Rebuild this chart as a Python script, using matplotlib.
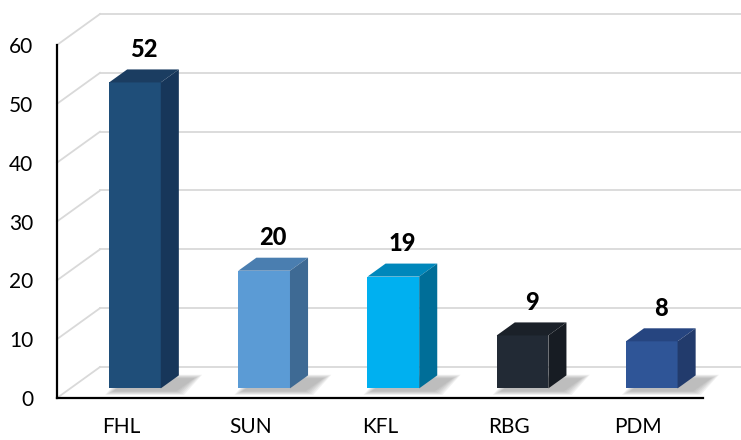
import matplotlib
matplotlib.use("Agg")
import matplotlib.pyplot as plt
from matplotlib.patches import Polygon, Rectangle

categories = ["FHL", "SUN", "KFL", "RBG", "PDM"]
values = [52, 20, 19, 9, 8]
front_colors = ["#1f4e79", "#5b9bd5", "#00b0f0", "#222a35", "#2f5597"]
top_colors = ["#1b3d61", "#4a7eb0", "#0087bb", "#1b2129", "#264580"]
side_colors = ["#17365a", "#3e6a94", "#006e98", "#171c23", "#223b6c"]
y_ticks = [0, 10, 20, 30, 40, 50, 60]

plt.rcParams["font.family"] = ["Lato", "DejaVu Sans"]

fig = plt.figure(figsize=(7.41, 4.40), dpi=100)
ax = fig.add_axes([57 / 741, 42 / 440, 646 / 741, 353 / 440])
ax.set_xlim(-0.5, 4.5)
ax.set_ylim(0, 60)

# oblique depth vector of the floor, in data units
DX = 0.333
DY = 5.27
f0, f1 = 0.31, 0.73   # bar front / back depth fraction
w = 0.2               # half width of bar front face

grid_col = "#d9d9d9"
for v in y_ticks:
    ax.plot([-0.5, -0.5 + DX], [v, v + DY], color=grid_col, lw=1.3,
            clip_on=False, zorder=0)
    ax.plot([-0.5 + DX, 4.5 + DX], [v + DY, v + DY], color=grid_col, lw=1.3,
            clip_on=False, zorder=0)

for i, v in enumerate(values):
    x0 = i - w + f0 * DX
    x1 = i + w + f0 * DX
    y0 = f0 * DY
    y1 = y0 + v
    ddx = (f1 - f0) * DX
    ddy = (f1 - f0) * DY

    # soft shadow on the floor
    for k in range(6):
        e = 0.012 * k
        sh = [(x0 + 0.03 - e, y0 - 0.5 - e * 10), (x1 + 0.12 + e, y0 - 0.5 - e * 10),
              (x1 + ddx + 0.12 + e, y0 + ddy - 0.5 + e * 10),
              (x0 + ddx + 0.03 - e, y0 + ddy - 0.5 + e * 10)]
        ax.add_patch(Polygon(sh, closed=True, facecolor="#7f7f7f", edgecolor="none",
                             alpha=0.11, zorder=1, clip_on=False))

    ax.add_patch(Rectangle((x0, y0), x1 - x0, v, facecolor=front_colors[i],
                           edgecolor="none", zorder=3, clip_on=False))
    top = [(x0, y1), (x1, y1), (x1 + ddx, y1 + ddy), (x0 + ddx, y1 + ddy)]
    ax.add_patch(Polygon(top, closed=True, facecolor=top_colors[i],
                         edgecolor="none", zorder=3, clip_on=False))
    side = [(x1, y0), (x1 + ddx, y0 + ddy), (x1 + ddx, y1 + ddy), (x1, y1)]
    ax.add_patch(Polygon(side, closed=True, facecolor=side_colors[i],
                         edgecolor="none", zorder=3, clip_on=False))

    ax.annotate(str(v), xy=(i + (f0 + f1) / 2 * DX, y1 + ddy / 2),
                xytext=(0, 19), textcoords="offset points", ha="center",
                va="center", fontsize=17, fontweight="black", color="black",
                zorder=5, annotation_clip=False)

ax.set_xticks(range(len(categories)))
ax.set_xticklabels(categories)
ax.set_yticks(y_ticks)
ax.tick_params(axis="both", length=0, labelsize=15, colors="black")
ax.tick_params(axis="y", pad=17)
ax.tick_params(axis="x", pad=14)

for s in ["top", "right"]:
    ax.spines[s].set_visible(False)
for s in ["left", "bottom"]:
    ax.spines[s].set_linewidth(1.6)
    ax.spines[s].set_color("black")
    ax.spines[s].set_zorder(6)
ax.set_facecolor("none")

fig.savefig("out.png", dpi=100)
